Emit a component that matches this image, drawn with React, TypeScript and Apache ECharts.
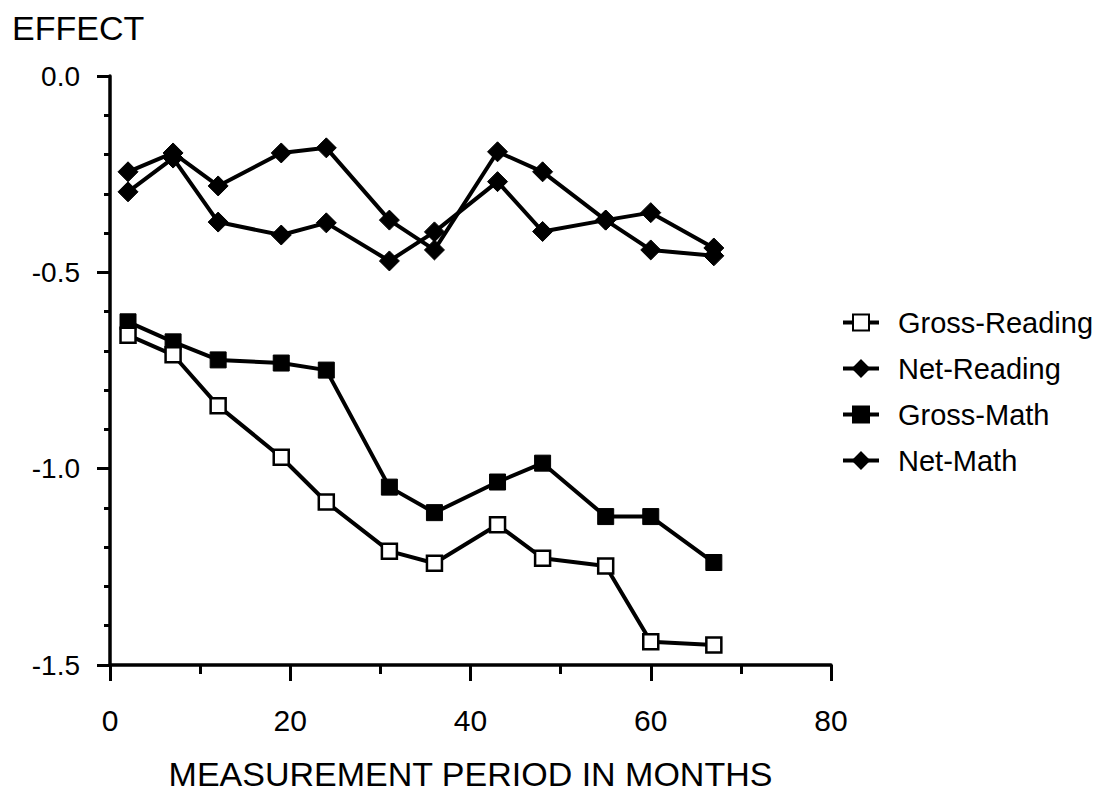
import React, { useEffect, useRef } from "react";
import * as echarts from "echarts";

const months = [2, 7, 12, 19, 24, 31, 36, 43, 48, 55, 60, 67];
const grossReading = [-0.66, -0.71, -0.84, -0.971, -1.085, -1.21, -1.241, -1.143, -1.228, -1.248, -1.441, -1.449];
const netReading = [-0.244, -0.196, -0.28, -0.196, -0.183, -0.367, -0.443, -0.193, -0.244, -0.367, -0.443, -0.458];
const grossMath = [-0.626, -0.677, -0.723, -0.731, -0.749, -1.047, -1.112, -1.034, -0.986, -1.122, -1.122, -1.239];
const netMath = [-0.295, -0.209, -0.372, -0.405, -0.374, -0.471, -0.397, -0.269, -0.396, -0.367, -0.348, -0.438];
const yTicks = [0, -0.5, -1.0, -1.5];
const xTicks = [0, 20, 40, 60, 80];

const FONT = "'Liberation Sans', Arial, Helvetica, sans-serif";

function pairs(ys: number[]) {
  return months.map((m, i) => [m, ys[i]]);
}

export default function App() {
  const ref = useRef<HTMLDivElement>(null);
  useEffect(() => {
    if (!ref.current) return;
    const chart = echarts.init(ref.current, undefined, { renderer: "svg" });
    const lineStyle = { color: "#000", width: 4 };
    const mk = (name: string, data: number[], symbol: string, size: number, fill: string) => ({
      name,
      type: "line",
      data: pairs(data),
      symbol,
      symbolSize: size,
      showSymbol: true,
      lineStyle,
      itemStyle: { color: fill, borderColor: "#000", borderWidth: fill === "#fff" ? 2.5 : 1 },
      emphasis: { disabled: true },
      z: fill === "#fff" ? 3 : 2,
    });
    chart.setOption({
      animation: false,
      backgroundColor: "#fff",
      textStyle: { fontFamily: FONT, color: "#000" },
      grid: { left: 110, right: 270, top: 76, bottom: 131, containLabel: false },
      graphic: [
        {
          type: "text",
          left: 12,
          top: 11,
          style: { text: "EFFECT", font: `34px ${FONT}`, fill: "#000" },
        },
      ],
      legend: {
        orient: "vertical",
        left: 836,
        top: 303,
        itemWidth: 36,
        itemHeight: 20,
        itemGap: 17,
        lineStyle: { width: 4 },
        textStyle: { fontFamily: FONT, fontSize: 29, color: "#000", padding: [0, 0, 0, 14] },
        data: ["Gross-Reading", "Net-Reading", "Gross-Math", "Net-Math"],
      },
      xAxis: {
        type: "value",
        min: 0,
        max: 80,
        interval: 20,
        name: "MEASUREMENT PERIOD IN MONTHS",
        nameLocation: "middle",
        nameGap: 92,
        nameTextStyle: { fontFamily: FONT, fontSize: 34, color: "#000" },
        axisLine: { show: true, onZero: false, lineStyle: { color: "#000", width: 3.5 } },
        axisTick: { show: true, length: 16, lineStyle: { color: "#000", width: 3 } },
        minorTick: { show: true, splitNumber: 2, length: 9, lineStyle: { color: "#000", width: 3 } },
        splitLine: { show: false },
        axisLabel: {
          margin: 40,
          fontFamily: FONT,
          fontSize: 30,
          color: "#000",
          customValues: xTicks,
        },
      },
      yAxis: {
        type: "value",
        min: -1.5,
        max: 0,
        interval: 0.5,
        axisLine: { show: true, onZero: false, lineStyle: { color: "#000", width: 3.5 } },
        axisTick: { show: true, length: 13, lineStyle: { color: "#000", width: 3 } },
        minorTick: { show: true, splitNumber: 5, length: 6, lineStyle: { color: "#000", width: 3 } },
        splitLine: { show: false },
        axisLabel: {
          margin: 30,
          fontFamily: FONT,
          fontSize: 28,
          color: "#000",
          formatter: (v: number) => (yTicks.includes(v) ? v.toFixed(1) : ""),
        },
      },
      series: [
        mk("Gross-Reading", grossReading, "rect", 15, "#fff"),
        mk("Net-Reading", netReading, "diamond", 20, "#000"),
        mk("Gross-Math", grossMath, "rect", 16, "#000"),
        mk("Net-Math", netMath, "diamond", 20, "#000"),
      ],
    });
    return () => chart.dispose();
  }, []);
  return (
    <div
      ref={ref}
      style={{ position: "fixed", left: 0, top: 0, width: 1101, height: 796, background: "#fff" }}
    />
  );
}
